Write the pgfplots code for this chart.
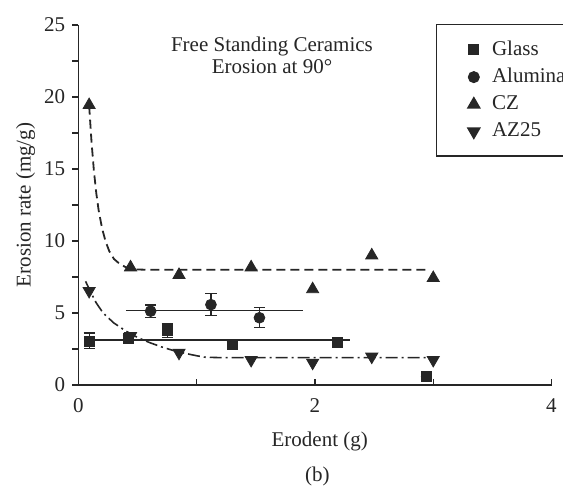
\documentclass[border=0pt]{standalone}
\usepackage{fontspec}
\setmainfont{Liberation Serif}
\usepackage{pgfplots}
\pgfplotsset{compat=1.18}
\colorlet{ink}{black!85}
\begin{document}
\fontsize{10.5}{12}\selectfont
\begin{tikzpicture}
\useasboundingbox (-39.25pt,-52pt) rectangle (242.25pt,192.5pt);
\begin{axis}[
  at={(0,0)}, anchor=south west,
  scale only axis, width=236.5pt, height=180pt,
  xmin=0, xmax=4, ymin=0, ymax=25,
  axis x line=bottom, axis y line=left,
  axis line style={-, line width=0.75pt, ink},
  xtick={0,2,4}, ytick={0,5,...,25},
  minor x tick num=1, minor y tick num=1,
  tick align=outside,
  major tick length=3pt, minor tick length=3pt,
  tick style={line width=0.7pt, ink},
  xtick style={yshift=3pt},
  every tick label/.append style={font=\fontsize{10.5}{12}\selectfont, text=ink},
  /pgf/number format/assume math mode=true,
  xlabel={Erodent (g)}, ylabel={Erosion rate (mg/g)},
  label style={font=\fontsize{10.5}{12}\selectfont, text=ink},
  xlabel style={at={(axis description cs:0.51,-0.158)}, anchor=center},
  ylabel style={at={(axis description cs:-0.112,0.5)}, anchor=center},
  legend style={at={(rel axis cs:0.755,1.003)}, anchor=north west,
    draw=ink, line width=0.6pt, font=\fontsize{10.5}{12}\selectfont, text=ink,
    inner xsep=6pt, inner ysep=6pt, row sep=1pt},
  legend cell align=left,
  legend image code/.code={\path[draw=none] (0cm,0cm) -- (0.7cm,0cm); \draw[#1] plot coordinates {(0.45cm,0cm)};},
  clip=false,
]
% fitted lines
\addplot[forget plot, ink, line width=1.1pt] coordinates {(0.09,3.1) (2.30,3.1)};
\addplot[forget plot, ink, line width=0.5pt] coordinates {(0.40,5.16) (1.90,5.16)};
\addplot[forget plot, ink, line width=0.9pt, dash pattern=on 4.5pt off 2.5pt] coordinates {
 (0.09,19.4) (0.11,16.9) (0.13,14.9) (0.15,13.35) (0.17,12.15) (0.20,10.85)
 (0.23,9.95) (0.26,9.3) (0.30,8.75) (0.35,8.4) (0.40,8.18) (0.45,8.07)
 (0.50,8.02) (0.60,8.0) (2.97,8.0)};
\addplot[forget plot, ink, line width=0.8pt, dash pattern=on 6pt off 2pt on 1pt off 2pt] coordinates {
 (0.06,7.2) (0.10,6.5) (0.15,5.7) (0.21,4.98) (0.30,4.3) (0.40,3.75) (0.50,3.3)
 (0.60,2.95) (0.70,2.65) (0.80,2.4) (0.90,2.2) (1.00,2.03) (1.07,1.93) (1.20,1.9) (3.00,1.9)};
% data
\addplot[only marks, mark=square*, mark size=2.5pt, ink, mark options={fill=ink},
  error bars/.cd, y dir=both, y explicit,
  error mark options={rotate=90, mark size=2.8pt, line width=0.6pt, ink},
  error bar style={line width=0.6pt, ink}]
 table[x=x, y=y, y error=e] {
 x y e
 0.09 3.06 0.55
 0.42 3.24 0.2
 0.75 3.77 0.47
 1.30 2.85 0.15
 2.19 2.94 0.2
 2.94 0.58 0
};
\addlegendentry{Glass}
\addplot[only marks, mark=*, mark size=2.7pt, ink, mark options={fill=ink},
  error bars/.cd, y dir=both, y explicit,
  error mark options={rotate=90, mark size=2.8pt, line width=0.6pt, ink},
  error bar style={line width=0.6pt, ink}]
 table[x=x, y=y, y error=e] {
 x y e
 0.61 5.13 0.43
 1.12 5.58 0.75
 1.53 4.67 0.7
};
\addlegendentry{Alumina}
\addplot[only marks, mark=triangle*, mark size=3.5pt, ink, mark options={fill=ink}]
 coordinates {(0.09,19.44) (0.44,8.17) (0.85,7.64) (1.46,8.17) (1.98,6.65) (2.48,9.0) (3.0,7.43)};
\addlegendentry{CZ}
\addplot[only marks, mark=triangle*, mark size=3.5pt, ink, mark options={fill=ink, rotate=180}]
 coordinates {(0.09,6.53) (0.44,3.4) (0.85,2.24) (1.46,1.74) (1.98,1.55) (2.48,1.97) (3.0,1.74)};
\addlegendentry{AZ25}
\node[align=center, font=\fontsize{10.5}{11}\selectfont, text=ink] at (axis cs:1.636,22.9) {Free Standing Ceramics\\Erosion at 90°};
\node[font=\fontsize{10.5}{12}\selectfont, text=ink] at (axis description cs:0.505,-0.255) {(b)};
\end{axis}
\end{tikzpicture}
\end{document}
